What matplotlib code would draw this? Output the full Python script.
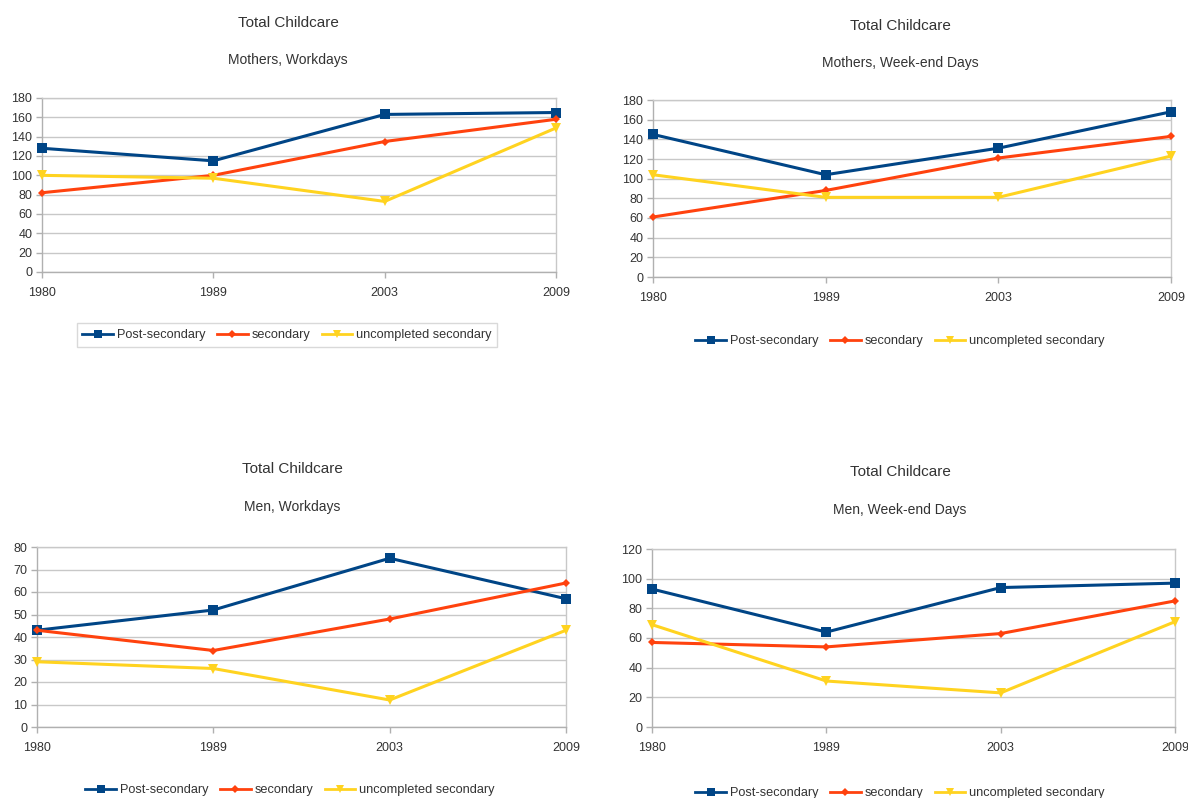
import matplotlib
matplotlib.use("Agg")
import matplotlib.pyplot as plt
from matplotlib.lines import Line2D

plt.rcParams['font.family'] = ['Liberation Sans', 'DejaVu Sans']

years = ["1980", "1989", "2003", "2009"]
series_names = ["Post-secondary", "secondary", "uncompleted secondary"]

mothers_workdays_post = [128, 115, 163, 165]
mothers_workdays_sec = [82, 100, 135, 158]
mothers_workdays_uncomp = [100, 97, 73, 149]

mothers_weekend_post = [145, 104, 131, 168]
mothers_weekend_sec = [61, 88, 121, 143]
mothers_weekend_uncomp = [104, 81, 81, 123]

men_workdays_post = [43, 52, 75, 57]
men_workdays_sec = [43, 34, 48, 64]
men_workdays_uncomp = [29, 26, 12, 43]

men_weekend_post = [93, 64, 94, 97]
men_weekend_sec = [57, 54, 63, 85]
men_weekend_uncomp = [69, 31, 23, 71]

W, H = 1188, 798
fig = plt.figure(figsize=(W / 100, H / 100), dpi=100)
fig.patch.set_facecolor("white")

colors = ["#004586", "#ff420e", "#ffd320"]
markers = ["s", "D", "v"]
msizes = [7.5, 4.5, 7]
text_color = "#333333"
grid_color = "#c8c8c8"
axis_color = "#b0b0b0"


def px_axes(left, top, right, bottom):
    return fig.add_axes([left / W, 1 - bottom / H, (right - left) / W, (bottom - top) / H])


def draw_panel(box, subtitle, title_xy, sub_y, data, ymax, ystep, legend_xy, legend_frame):
    ax = px_axes(*box)
    x = list(range(len(years)))
    for vals, c, m, ms, name in zip(data, colors, markers, msizes, series_names):
        ax.plot(x, vals, color=c, lw=2.2, marker=m, markersize=ms,
                markeredgewidth=0, label=name, clip_on=False, zorder=3)
    ax.set_xlim(0, len(years) - 1)
    ax.set_ylim(0, ymax)
    ax.set_xticks(x)
    ax.set_xticklabels(years)
    ax.set_yticks(range(0, ymax + 1, ystep))
    ax.yaxis.grid(True, color=grid_color, lw=1.0)
    ax.set_axisbelow(True)
    for side in ["top", "right"]:
        ax.spines[side].set_color(grid_color)
        ax.spines[side].set_linewidth(1.0)
    for side in ["left", "bottom"]:
        ax.spines[side].set_color(axis_color)
        ax.spines[side].set_linewidth(1.0)
    ax.tick_params(axis="both", colors=axis_color, labelcolor=text_color,
                   labelsize=9, length=4, width=1.0, pad=3)
    ax.tick_params(axis="x", pad=7)

    tx, ty = title_xy
    fig.text(tx / W, 1 - ty / H, "Total Childcare", ha="center", va="center",
             fontsize=11, color=text_color)
    fig.text(tx / W, 1 - sub_y / H, subtitle, ha="center", va="center",
             fontsize=10, color=text_color)

    handles = [Line2D([0], [0], color=c, lw=2.0, marker=m, markersize=ms * 0.8,
                      markeredgewidth=0)
               for c, m, ms in zip(colors, markers, msizes)]
    leg = ax.legend(handles, series_names, loc="center", ncol=3,
                    bbox_to_anchor=(legend_xy[0] / W, 1 - legend_xy[1] / H),
                    bbox_transform=fig.transFigure, fontsize=9.2,
                    frameon=legend_frame, fancybox=False, handlelength=2.4,
                    handletextpad=0.3, columnspacing=0.9, borderpad=0.45)
    for t in leg.get_texts():
        t.set_color(text_color)
    if legend_frame:
        leg.get_frame().set_edgecolor("#d0d0d0")
        leg.get_frame().set_linewidth(1.0)
    return ax


draw_panel((42, 98, 556, 272), "Mothers, Workdays", (288, 23), 60,
           [mothers_workdays_post, mothers_workdays_sec, mothers_workdays_uncomp],
           180, 20, (287, 335), True)
draw_panel((653, 100, 1171, 277), "Mothers, Week-end Days", (900, 26), 63,
           [mothers_weekend_post, mothers_weekend_sec, mothers_weekend_uncomp],
           180, 20, (900, 341), False)
draw_panel((37, 547, 566, 727), "Men, Workdays", (292, 469), 507,
           [men_workdays_post, men_workdays_sec, men_workdays_uncomp],
           80, 10, (290, 790), False)
draw_panel((652, 549, 1175, 727), "Men, Week-end Days", (900, 472), 510,
           [men_weekend_post, men_weekend_sec, men_weekend_uncomp],
           120, 20, (900, 793), False)

fig.savefig("out.png", dpi=100, facecolor="white")
